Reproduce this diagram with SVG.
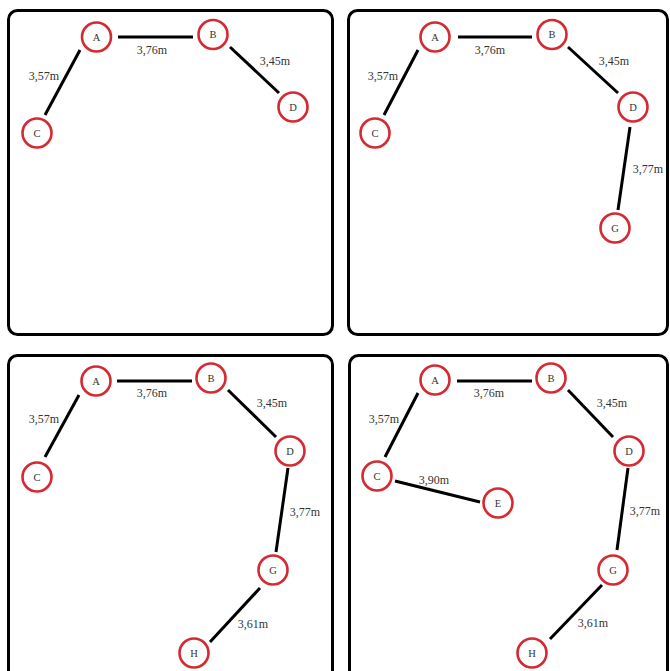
<svg xmlns="http://www.w3.org/2000/svg" width="670" height="671" viewBox="0 0 670 671">
<style>
.frame{fill:#fff;stroke:#000;stroke-width:3}
.node circle{fill:#fff;stroke:#d42a32;stroke-width:2.6}
.node text{font-family:"Liberation Serif",serif;font-size:10.5px;fill:#333;text-anchor:middle}
.edge{stroke:#000;stroke-width:3;stroke-linecap:butt}
.lbl{font-family:"Liberation Serif",serif;font-size:12px;fill:#333;text-anchor:middle}
</style>
<rect width="670" height="671" fill="#fff"/>
<rect class="frame" x="8.5" y="10.5" width="324" height="324" rx="9"/>
<rect class="frame" x="348.5" y="10.5" width="319" height="324" rx="9"/>
<rect class="frame" x="8.5" y="355.5" width="324" height="330" rx="9"/>
<rect class="frame" x="349.5" y="355.5" width="318" height="330" rx="9"/>

<g id="connectors">
<!-- panel 1 -->
<line class="edge" x1="118" y1="37" x2="193" y2="37"/>
<line class="edge" x1="230" y1="47" x2="279" y2="93"/>
<line class="edge" x1="80" y1="50" x2="45" y2="115"/>
<text class="lbl" x="152" y="54">3,76m</text>
<text class="lbl" x="275" y="65">3,45m</text>
<text class="lbl" x="44" y="80">3,57m</text>
<!-- panel 2 -->
<line class="edge" x1="458" y1="37" x2="532" y2="37"/>
<line class="edge" x1="568" y1="47" x2="618" y2="93"/>
<line class="edge" x1="418" y1="50" x2="384" y2="115"/>
<line class="edge" x1="630" y1="127" x2="618" y2="210"/>
<text class="lbl" x="490" y="54">3,76m</text>
<text class="lbl" x="614" y="65">3,45m</text>
<text class="lbl" x="383" y="80">3,57m</text>
<text class="lbl" x="648" y="173">3,77m</text>
<!-- panel 3 -->
<line class="edge" x1="117" y1="381" x2="192" y2="381"/>
<line class="edge" x1="228" y1="390" x2="276" y2="437"/>
<line class="edge" x1="79" y1="395" x2="45" y2="457"/>
<line class="edge" x1="288" y1="468" x2="276" y2="552"/>
<line class="edge" x1="260" y1="588" x2="210" y2="642"/>
<text class="lbl" x="152" y="397">3,76m</text>
<text class="lbl" x="272" y="407">3,45m</text>
<text class="lbl" x="44" y="423">3,57m</text>
<text class="lbl" x="305" y="516">3,77m</text>
<text class="lbl" x="253" y="628">3,61m</text>
<!-- panel 4 -->
<line class="edge" x1="457" y1="381" x2="532" y2="381"/>
<line class="edge" x1="568" y1="390" x2="613" y2="437"/>
<line class="edge" x1="418" y1="393" x2="385" y2="457"/>
<line class="edge" x1="395" y1="481" x2="480" y2="502"/>
<line class="edge" x1="628" y1="468" x2="617" y2="550"/>
<line class="edge" x1="602" y1="585" x2="550" y2="639"/>
<text class="lbl" x="489" y="397">3,76m</text>
<text class="lbl" x="612" y="407">3,45m</text>
<text class="lbl" x="384" y="423">3,57m</text>
<text class="lbl" x="434" y="484">3,90m</text>
<text class="lbl" x="645" y="515">3,77m</text>
<text class="lbl" x="593" y="627">3,61m</text>
</g>

<!-- panel 1 nodes -->
<g id="p1-A" class="node"><circle cx="96.5" cy="37" r="14.5"/><text x="96.5" y="40.5">A</text></g>
<g id="p1-B" class="node"><circle cx="213" cy="34.5" r="14.5"/><text x="213" y="38">B</text></g>
<g id="p1-C" class="node"><circle cx="37" cy="133" r="14.5"/><text x="37" y="136.5">C</text></g>
<g id="p1-D" class="node"><circle cx="293" cy="107" r="14.5"/><text x="293" y="110.5">D</text></g>
<!-- panel 2 nodes -->
<g id="p2-A" class="node"><circle cx="435" cy="37" r="14.5"/><text x="435" y="40.5">A</text></g>
<g id="p2-B" class="node"><circle cx="552" cy="34.5" r="14.5"/><text x="552" y="38">B</text></g>
<g id="p2-C" class="node"><circle cx="375" cy="133" r="14.5"/><text x="375" y="136.5">C</text></g>
<g id="p2-D" class="node"><circle cx="633" cy="107" r="14.5"/><text x="633" y="110.5">D</text></g>
<g id="p2-G" class="node"><circle cx="615" cy="228" r="14.5"/><text x="615" y="231.5">G</text></g>
<!-- panel 3 nodes -->
<g id="p3-A" class="node"><circle cx="96" cy="381" r="14.5"/><text x="96" y="384.5">A</text></g>
<g id="p3-B" class="node"><circle cx="211" cy="378" r="14.5"/><text x="211" y="381.5">B</text></g>
<g id="p3-C" class="node"><circle cx="37" cy="477" r="14.5"/><text x="37" y="480.5">C</text></g>
<g id="p3-D" class="node"><circle cx="290" cy="451" r="14.5"/><text x="290" y="454.5">D</text></g>
<g id="p3-G" class="node"><circle cx="273" cy="570" r="14.5"/><text x="273" y="573.5">G</text></g>
<g id="p3-H" class="node"><circle cx="194" cy="653" r="14.5"/><text x="194" y="656.5">H</text></g>
<!-- panel 4 nodes -->
<g id="p4-A" class="node"><circle cx="435" cy="380" r="14.5"/><text x="435" y="383.5">A</text></g>
<g id="p4-B" class="node"><circle cx="551" cy="378" r="14.5"/><text x="551" y="381.5">B</text></g>
<g id="p4-C" class="node"><circle cx="377" cy="476" r="14.5"/><text x="377" y="479.5">C</text></g>
<g id="p4-D" class="node"><circle cx="629" cy="451" r="14.5"/><text x="629" y="454.5">D</text></g>
<g id="p4-E" class="node"><circle cx="498" cy="503" r="14.5"/><text x="498" y="506.5">E</text></g>
<g id="p4-G" class="node"><circle cx="613" cy="570" r="14.5"/><text x="613" y="573.5">G</text></g>
<g id="p4-H" class="node"><circle cx="532" cy="653" r="14.5"/><text x="532" y="656.5">H</text></g>
</svg>
